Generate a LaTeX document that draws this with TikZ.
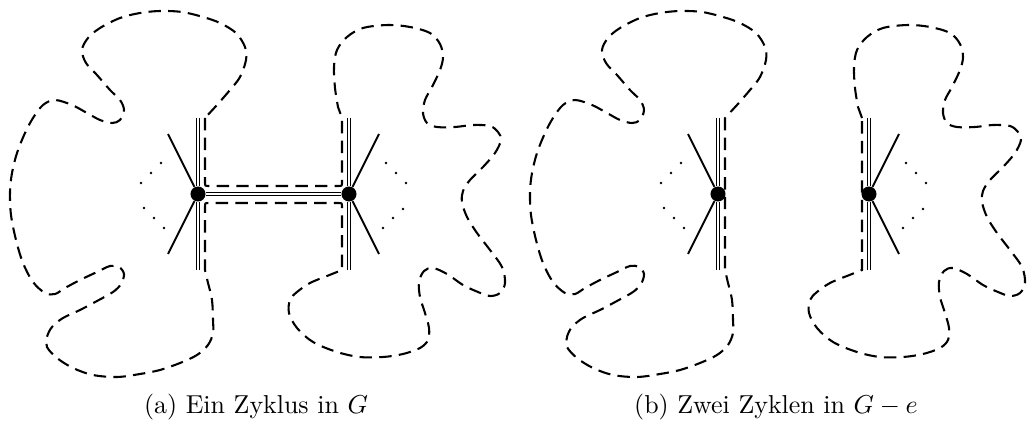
\documentclass[tikz,border=0pt]{standalone}
\newcommand\RBlob{-- plot[smooth,tension=0.55] coordinates {(338,107) (335,88) (334,67) (337,50) (347,37) (363,28) (388,25) (410,27) (430,33) (440,44) (443,57) (440,70) (432,87) (425,100) (423,113) (427,123) (437,127) (455,127) (473,125) (490,126) (498,132) (501,140) (495,153) (483,167) (470,180) (463,191) (462,202) (467,217) (477,233) (490,250) (502,267) (505,283) (500,293) (490,296) (478,292) (463,285) (447,274) (433,268) (424,271) (419,282) (420,297) (425,313) (429,328) (428,340) (420,348) (403,354) (383,357) (360,357) (337,352) (313,342) (297,328) (289,313) (290,300) (297,292) (310,283) (327,276)}}
\newcommand\LBlob{-- plot[smooth,tension=0.55] coordinates {(208,283) (212,300) (213,320) (213,333) (208,345) (197,355) (180,363) (160,370) (140,374) (117,377) (93,375) (73,368) (57,358) (47,347) (47,337) (52,327) (63,318) (80,310) (97,301) (113,292) (121,284) (124,274) (119,267) (110,266) (97,272) (80,280) (65,288) (55,294) (45,293) (33,282) (23,263) (16,240) (11,215) (10,192) (12,173) (17,153) (25,133) (33,118) (43,105) (55,100) (72,105) (87,113) (100,120) (112,123) (120,120) (124,110) (120,100) (110,90) (97,75) (86,63) (82,50) (88,38) (100,28) (120,18) (140,13) (160,11) (182,12) (203,17) (220,23) (236,33) (245,47) (246,60) (240,77) (230,90) (217,105)}}
\begin{document}
\begin{tikzpicture}[x=0.386pt,y=-0.386pt,
  vertex/.style={circle,fill=black,inner sep=0pt,minimum size=5.8pt},
  edge/.style={line width=0.75pt},
  dbl/.style={double,line width=0.45pt,double distance=0.75pt},
  cyc/.style={line width=0.8pt,dash pattern=on 4.8pt off 2.8pt},
  dotmark/.style={fill=black}]
\useasboundingbox (0,0) rectangle (1033,428);

% ---------- (a) ----------
\coordinate (aLt) at (198,118); \coordinate (aLb) at (198,270);
\coordinate (aRt) at (349,118); \coordinate (aRb) at (349,270);
\coordinate (aL1) at (168,134); \coordinate (aL2) at (168,254);
\coordinate (aR1) at (379,134); \coordinate (aR2) at (379,254);
\node[vertex] (aL) at (198,194) {};
\node[vertex] (aR) at (349,194) {};
\draw[dbl] (aLt) -- (aL); \draw[dbl] (aL) -- (aLb);
\draw[dbl] (aRt) -- (aR); \draw[dbl] (aR) -- (aRb);
\draw[dbl] (aL) -- (aR);
\draw[edge] (aL1) -- (aL); \draw[edge] (aL2) -- (aL);
\draw[edge] (aR1) -- (aR); \draw[edge] (aR2) -- (aR);
\foreach \p in {(161,163),(151,173),(141,183),(144,208),(154,218),(164,228),
                (386,163),(396,173),(406,183),(403,209),(393,218),(383,228)}
  \fill[dotmark] \p circle[radius=0.55pt];
\draw[cyc] (205,118) -- (205,182) .. controls (205,186) .. (209,186) -- (338,186)
  .. controls (342,186) .. (342,182) -- (342,118) \RBlob -- (342,270) -- (342,207)
  .. controls (342,203) .. (338,203) -- (209,203) .. controls (205,203) .. (205,207)
  -- (205,270) \LBlob -- cycle;
\node[anchor=base] (capa) at (256,413) {(a) Ein Zyklus in $G$};

% ---------- (b) ----------
\begin{scope}[shift={(520,0)}]
\coordinate (bLt) at (198,118); \coordinate (bLb) at (198,270);
\coordinate (bRt) at (349,118); \coordinate (bRb) at (349,270);
\coordinate (bL1) at (168,134); \coordinate (bL2) at (168,254);
\coordinate (bR1) at (379,134); \coordinate (bR2) at (379,254);
\node[vertex] (bL) at (198,194) {};
\node[vertex] (bR) at (349,194) {};
\draw[dbl] (bLt) -- (bL); \draw[dbl] (bL) -- (bLb);
\draw[dbl] (bRt) -- (bR); \draw[dbl] (bR) -- (bRb);
\draw[edge] (bL1) -- (bL); \draw[edge] (bL2) -- (bL);
\draw[edge] (bR1) -- (bR); \draw[edge] (bR2) -- (bR);
\foreach \p in {(161,163),(151,173),(141,183),(144,208),(154,218),(164,228),
                (386,163),(396,173),(406,183),(403,209),(393,218),(383,228)}
  \fill[dotmark] \p circle[radius=0.55pt];
\draw[cyc] (205,118) -- (205,270) \LBlob -- cycle;
\draw[cyc] (342,118) \RBlob -- (342,270) -- cycle;
\node[anchor=base] (capb) at (256,413) {(b) Zwei Zyklen in $G-e$};
\end{scope}
\end{tikzpicture}
\end{document}
